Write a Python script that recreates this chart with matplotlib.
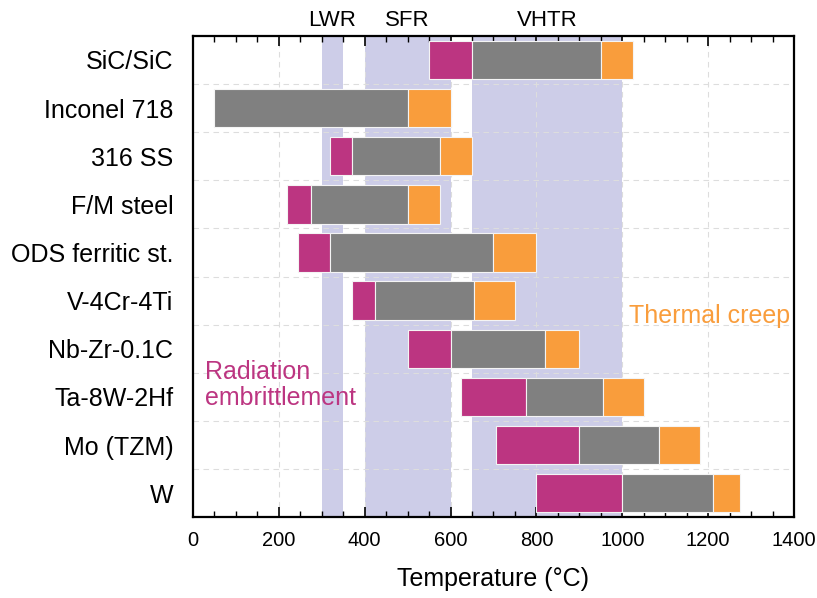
import matplotlib
matplotlib.use("Agg")
import matplotlib.pyplot as plt
from matplotlib.ticker import MultipleLocator

plt.rcParams["font.family"] = ["Liberation Sans", "DejaVu Sans"]

# operating windows per material (deg C)
materials = ["SiC/SiC", "Inconel 718", "316 SS", "F/M steel", "ODS ferritic st.",
             "V-4Cr-4Ti", "Nb-Zr-0.1C", "Ta-8W-2Hf", "Mo (TZM)", "W"]
t_low = [550, 50, 320, 220, 245, 370, 500, 625, 705, 800]        # embrittlement region starts
t_window = [650, 50, 370, 275, 320, 425, 600, 775, 900, 1000]    # usable window starts
t_creep = [950, 500, 575, 500, 700, 655, 820, 955, 1085, 1210]   # thermal creep starts
t_high = [1025, 600, 650, 575, 800, 750, 900, 1050, 1180, 1275]  # upper limit

reactors = ["LWR", "SFR", "VHTR"]
reactor_lo = [300, 400, 650]
reactor_hi = [350, 600, 1000]

MAGENTA = "#bc3581"
GRAY = "#808080"
ORANGE = "#f99d3c"
BAND = "#cdcde8"

fig = plt.figure(figsize=(8.17, 5.98), dpi=100)
ax = fig.add_axes([0.236, 0.135, 0.736, 0.805])

for lo, hi, name in zip(reactor_lo, reactor_hi, reactors):
    ax.axvspan(lo, hi, color=BAND, lw=0, zorder=0)
    ax.text((lo + hi) / 2, -0.6, name, ha="center", va="bottom", fontsize=16)

y = list(range(len(materials)))
h = 0.8
bar_kw = dict(height=h, edgecolor="#f4f4f4", linewidth=0.8, zorder=3)
ax.barh(y, [w - l for l, w in zip(t_low, t_window)], left=t_low, color=MAGENTA, **bar_kw)
ax.barh(y, [c - w for w, c in zip(t_window, t_creep)], left=t_window, color=GRAY, **bar_kw)
ax.barh(y, [e - c for c, e in zip(t_creep, t_high)], left=t_creep, color=ORANGE, **bar_kw)

ax.set_xlim(0, 1400)
ax.set_ylim(len(materials) - 0.5, -0.5)
ax.set_yticks(y)
ax.set_yticklabels(materials, fontsize=18)
ax.yaxis.set_minor_locator(MultipleLocator(1, offset=0.5))
ax.tick_params(axis="y", which="both", length=0, pad=14)

ax.xaxis.set_major_locator(MultipleLocator(200))
ax.xaxis.set_minor_locator(MultipleLocator(50))
ax.tick_params(axis="x", which="both", direction="in", top=True, bottom=True, labelsize=14.5)
ax.tick_params(axis="x", which="major", length=7, width=1.2, pad=10)
ax.tick_params(axis="x", which="minor", length=4, width=1.0)

ax.grid(axis="x", which="major", ls=(0, (5, 4)), color="#dddddd", lw=0.8, zorder=1)
ax.grid(axis="y", which="minor", ls=(0, (5, 4)), color="#dddddd", lw=0.8, zorder=1)

for s in ax.spines.values():
    s.set_linewidth(1.6)

ax.set_xlabel("Temperature (°C)", fontsize=18, labelpad=12)

ax.text(1390, 5.32, "Thermal creep", color=ORANGE, fontsize=18, ha="right", va="center")
ax.text(28, 6.76, "Radiation\nembrittlement", color=MAGENTA, fontsize=18,
        ha="left", va="center", linespacing=1.1)

fig.savefig("out.png", dpi=100)
